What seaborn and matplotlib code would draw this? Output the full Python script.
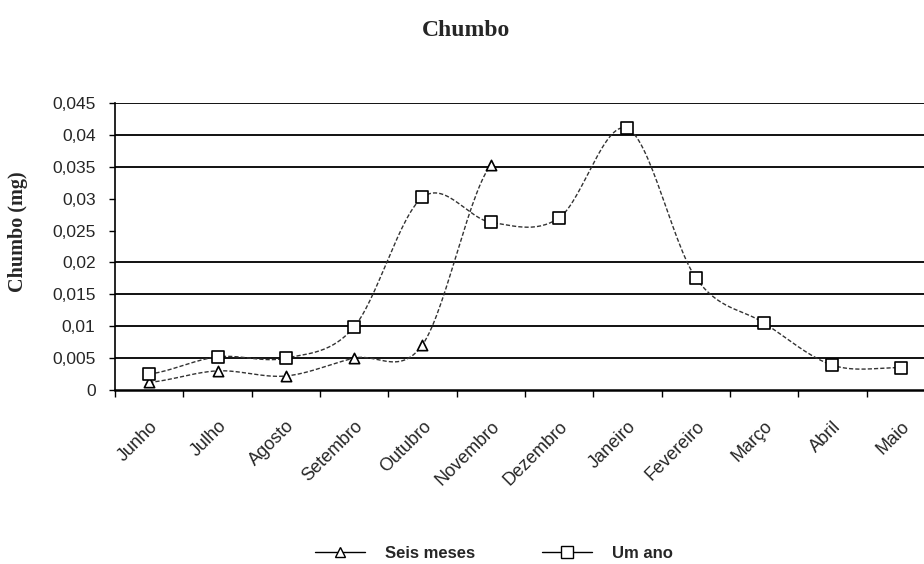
import numpy as np
import pandas as pd
import matplotlib
matplotlib.use("Agg")
import matplotlib.pyplot as plt
from matplotlib.lines import Line2D
import seaborn as sns

months = ['Junho', 'Julho', 'Agosto', 'Setembro', 'Outubro', 'Novembro',
          'Dezembro', 'Janeiro', 'Fevereiro', 'Março', 'Abril', 'Maio']
seis_meses = [0.0012, 0.0030, 0.0022, 0.0050, 0.0071, 0.0353]
um_ano = [0.0025, 0.0052, 0.0050, 0.0099, 0.0302, 0.0263,
          0.0270, 0.0410, 0.0176, 0.0105, 0.0039, 0.0035]
ytick_values = [0, 0.005, 0.01, 0.015, 0.02, 0.025, 0.03, 0.035, 0.04, 0.045]
ytick_labels = ['0', '0,005', '0,01', '0,015', '0,02', '0,025', '0,03', '0,035', '0,04', '0,045']
grid_levels = [0.005, 0.01, 0.015, 0.02, 0.035, 0.04, 0.045]

sns.set_theme(style="white")
plt.rcParams['font.family'] = ['Liberation Sans', 'DejaVu Sans']


def smooth(y, n=30):
    """Cardinal (Catmull-Rom) smoothing, like Excel's smoothed line."""
    y = np.asarray(y, float)
    x = np.arange(len(y), dtype=float)
    m = np.zeros_like(y)
    for i in range(len(y)):
        if i == 0:
            m[i] = (y[1] - y[0]) / 2
        elif i == len(y) - 1:
            m[i] = (y[-1] - y[-2]) / 2
        else:
            m[i] = (y[i + 1] - y[i - 1]) / 2
    xs, ys = [], []
    for i in range(len(y) - 1):
        t = np.linspace(0, 1, n, endpoint=(i == len(y) - 2))
        h00 = 2 * t**3 - 3 * t**2 + 1
        h10 = t**3 - 2 * t**2 + t
        h01 = -2 * t**3 + 3 * t**2
        h11 = t**3 - t**2
        xs.append(x[i] + t)
        ys.append(h00 * y[i] + h10 * m[i] + h01 * y[i + 1] + h11 * m[i + 1])
    return np.concatenate(xs), np.concatenate(ys)


fig = plt.figure(figsize=(9.24, 5.64), dpi=100)
ax = fig.add_axes([0.1245, 0.3085, 0.8755, 0.5089])

for lv in grid_levels:
    ax.axhline(lv, color='#111111', lw=1.4, zorder=0)

line_col = '#333333'
for vals, mk, ms in [(seis_meses, '^', 55), (um_ano, 's', 70)]:
    sx, sy = smooth(vals)
    sns.lineplot(x=sx, y=sy, ax=ax, color=line_col, lw=1.0,
                 linestyle=(0, (3, 1.5)), sort=False, zorder=2)
    df = pd.DataFrame({'x': np.arange(len(vals)), 'y': vals})
    sns.scatterplot(data=df, x='x', y='y', ax=ax, marker=mk, s=ms,
                    facecolor='white', edgecolor='black', linewidth=1.2, zorder=3)

ax.set_xlim(-0.5, 11.34)
ax.set_ylim(0, 0.045)
ax.set_yticks(ytick_values)
ax.set_yticklabels(ytick_labels, fontsize=12.5)
ax.set_xticks(range(len(months)))
ax.set_xticklabels(months, rotation=45, ha='right', rotation_mode='anchor', fontsize=13)
ax.set_xticks(np.arange(-0.5, 11.5, 1), minor=True)
ax.tick_params(axis='x', which='major', length=0, pad=20)
ax.tick_params(axis='x', which='minor', length=5, width=1, direction='out', color='black', bottom=True)
ax.tick_params(axis='y', length=4, width=1, direction='out', color='black', left=True, pad=10)
ax.set_xlabel('')
ax.set_ylabel('')
for s in ['top', 'right']:
    ax.spines[s].set_visible(False)
ax.spines['left'].set_color('black')
ax.spines['bottom'].set_color('black')
ax.spines['left'].set_linewidth(1.2)
ax.spines['bottom'].set_linewidth(1.8)

fig.text(466 / 924, 1 - 30 / 564, 'Chumbo', ha='center', va='center',
         fontsize=17, fontweight='bold', family='Liberation Serif')
fig.text(18 / 924, 1 - 232 / 564, 'Chumbo (mg)', ha='center', va='center',
         rotation=90, fontsize=14.5, fontweight='bold', family='Liberation Serif')

handles = [Line2D([], [], color='black', lw=1, marker='^', markersize=7,
                  markerfacecolor='white', markeredgecolor='black'),
           Line2D([], [], color='black', lw=1, marker='s', markersize=8,
                  markerfacecolor='white', markeredgecolor='black')]
fig.legend(handles, ['Seis meses', 'Um ano'], loc='center', ncol=2, frameon=False,
           bbox_to_anchor=(494 / 924, 1 - 553 / 564), prop={'weight': 'bold', 'size': 12},
           handlelength=3, columnspacing=4, handletextpad=1.2)

fig.savefig('out.png', dpi=100)
